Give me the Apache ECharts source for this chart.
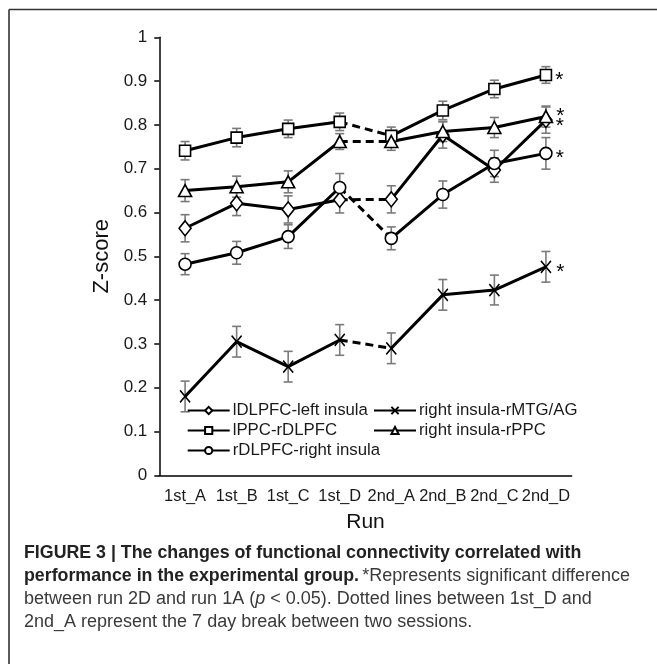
<!DOCTYPE html>
<html>
<head>
<meta charset="utf-8">
<script src="https://cdn.jsdelivr.net/npm/echarts@6/dist/echarts.min.js"></script>
<style>
html,body{margin:0;padding:0;background:#fff;}
#c{width:657px;height:664px;}
</style>
</head>
<body>
<div id="c"></div>
<script>
// ---- data ----
const categories = ['1st_A','1st_B','1st_C','1st_D','2nd_A','2nd_B','2nd_C','2nd_D'];
const yTicks = [0,0.1,0.2,0.3,0.4,0.5,0.6,0.7,0.8,0.9,1];

const names = ['lDLPFC-left insula','lPPC-rDLPFC','rDLPFC-right insula','right insula-rMTG/AG','right insula-rPPC'];

const lDLPFC_leftInsula     = [0.564, 0.621, 0.607, 0.629, 0.630, 0.777, 0.697, 0.811];
const lDLPFC_leftInsula_err = [0.031, 0.028, 0.031, 0.030, 0.031, 0.030, 0.028, 0.030];

const lPPC_rDLPFC     = [0.741, 0.771, 0.791, 0.807, 0.775, 0.833, 0.882, 0.914];
const lPPC_rDLPFC_err = [0.021, 0.021, 0.020, 0.020, 0.020, 0.021, 0.020, 0.019];

const rDLPFC_rightInsula     = [0.482, 0.508, 0.545, 0.657, 0.541, 0.641, 0.712, 0.735];
const rDLPFC_rightInsula_err = [0.024, 0.026, 0.027, 0.032, 0.026, 0.031, 0.030, 0.036];

const rightInsula_rMTG     = [0.180, 0.305, 0.248, 0.309, 0.290, 0.412, 0.423, 0.476];
const rightInsula_rMTG_err = [0.035, 0.035, 0.035, 0.035, 0.035, 0.035, 0.034, 0.035];

const rightInsula_rPPC     = [0.650, 0.659, 0.670, 0.762, 0.762, 0.785, 0.794, 0.819];
const rightInsula_rPPC_err = [0.025, 0.024, 0.025, 0.018, 0.020, 0.023, 0.023, 0.024];

// ---- styles ----
const FONT = 'Liberation Sans';
const CAP = 'Liberation Sans';
const defs = [
  {name:names[0], v:lDLPFC_leftInsula, e:lDLPFC_leftInsula_err, symbol:'diamond', size:[12,15], starOff:[0,6]},
  {name:names[1], v:lPPC_rDLPFC, e:lPPC_rDLPFC_err, symbol:'rect', size:11, starOff:[0,5]},
  {name:names[2], v:rDLPFC_rightInsula, e:rDLPFC_rightInsula_err, symbol:'circle', size:12, starOff:[0,5]},
  {name:names[3], v:rightInsula_rMTG, e:rightInsula_rMTG_err, symbol:'path://M0,0L10,12M10,0L0,12', size:[10,12], cross:true, starOff:[0,5]},
  {name:names[4], v:rightInsula_rPPC, e:rightInsula_rPPC_err, symbol:'triangle', size:[13,12], starOff:[0,0]}
];

const series = [];
// error bars
defs.forEach(d => {
  series.push({
    type:'custom',
    name:d.name+' err',
    z:1,
    silent:true,
    encode:{x:0, y:[1,2]},
    data:d.v.map((v,i)=>[i, v-d.e[i], v+d.e[i]]),
    renderItem:function(params, api){
      const x = api.value(0);
      const lo = api.coord([x, api.value(1)]);
      const hi = api.coord([x, api.value(2)]);
      const w = 4.5;
      const st = {stroke:'#7a7a7a', lineWidth:1.6};
      return {type:'group', children:[
        {type:'line', shape:{x1:lo[0],y1:lo[1],x2:hi[0],y2:hi[1]}, style:st},
        {type:'line', shape:{x1:lo[0]-w,y1:lo[1],x2:lo[0]+w,y2:lo[1]}, style:st},
        {type:'line', shape:{x1:hi[0]-w,y1:hi[1],x2:hi[0]+w,y2:hi[1]}, style:st}
      ]};
    }
  });
});
// dashed break segments
defs.forEach(d => {
  series.push({
    type:'line', name:d.name+' break', z:2, silent:true,
    symbol:'none',
    data:d.v.map((v,i)=> (i===3||i===4) ? v : '-'),
    lineStyle:{color:'#000', width:3, type:[8,5]},
    animation:false
  });
});
// solid segments with markers
defs.forEach(d => {
  const itemStyle = d.cross
    ? {color:'none', borderColor:'#000', borderWidth:1.6}
    : {color:'#fff', borderColor:'#000', borderWidth:1.6};
  const common = {
    type:'line', z:3, symbol:d.symbol, symbolSize:d.size, showAllSymbol:true,
    lineStyle:{color:'#000', width:3}, itemStyle:itemStyle, animation:false,
    emphasis:{disabled:true}
  };
  series.push(Object.assign({}, common, {
    name:d.name,
    data:d.v.map((v,i)=> i<4 ? v : '-')
  }));
  series.push(Object.assign({}, common, {
    name:d.name+' s2',
    data:d.v.map((v,i)=> {
      if (i<4) return '-';
      if (i===7) return {value:v, label:{show:true, position:'right', distance:3, formatter:'*', offset:d.starOff,
        color:'#000', fontSize:21, fontFamily:FONT}};
      return v;
    })
  }));
});

const legendCommon = {
  orient:'vertical', padding:0, itemGap:3, itemWidth:42, itemHeight:9,
  textStyle:{fontFamily:FONT, fontSize:16.8, color:'#1a1a1a', padding:[0,0,0,-2]},
  selectedMode:false
};

const option = {
  backgroundColor:'#fff',
  animation:false,
  grid:{left:159.3, right:85.3, top:37.3, bottom:188.7, containLabel:false},
  xAxis:{
    type:'category', data:categories, boundaryGap:true,
    name:'Run', nameLocation:'middle', nameGap:36,
    nameTextStyle:{fontFamily:FONT, fontSize:21, color:'#111'},
    axisLine:{lineStyle:{color:'#000', width:1.5}},
    axisTick:{alignWithLabel:true, length:5, lineStyle:{color:'#000', width:1.5}},
    axisLabel:{fontFamily:FONT, fontSize:16.4, color:'#1a1a1a', margin:13, interval:0}
  },
  yAxis:{
    type:'value', min:yTicks[0], max:yTicks[yTicks.length-1], interval:0.1,
    name:'Z-score', nameLocation:'middle', nameGap:41,
    nameTextStyle:{fontFamily:FONT, fontSize:22, color:'#111'},
    axisLine:{show:true, lineStyle:{color:'#000', width:1.5}},
    axisTick:{show:true, length:5, lineStyle:{color:'#000', width:1.5}},
    splitLine:{show:false},
    axisLabel:{fontFamily:FONT, fontSize:17, color:'#1a1a1a', margin:12,
      formatter:function(v){ return String(Math.round(v*10)/10); }}
  },
  legend:[
    Object.assign({}, legendCommon, {left:186.7, top:402, data:[names[0], names[1], names[2]]}),
    Object.assign({}, legendCommon, {left:373, top:402, data:[names[3], names[4]]})
  ],
  graphic:[
    {type:'line', shape:{x1:9, y1:9.5, x2:657, y2:9.5}, style:{stroke:'#333', lineWidth:1.6}},
    {type:'line', shape:{x1:9, y1:9.5, x2:9, y2:664}, style:{stroke:'#333', lineWidth:1.6}},
    {type:'text', left:24, top:544,
      style:{
        text:'{b|FIGURE 3 | The changes of functional connectivity correlated with}\n' +
             '{b|performance in the experimental group.} {r|*Represents significant difference}\n' +
             '{r|between run 2D and run 1A (}{i|p}{r| < 0.05). Dotted lines between 1st_D and}\n' +
             '{r|2nd_A represent the 7 day break between two sessions.}',
        rich:{
          b:{fontFamily:CAP, fontWeight:'bold', fontSize:17.8, lineHeight:23, fill:'#222'},
          r:{fontFamily:CAP, fontSize:18, lineHeight:23, fill:'#3a3a3a'},
          i:{fontFamily:CAP, fontStyle:'italic', fontSize:18, lineHeight:23, fill:'#3a3a3a'}
        }
      }}
  ],
  series:series
};

const chart = echarts.init(document.getElementById('c'), null, {renderer:'canvas'});
chart.setOption(option);
</script>
</body>
</html>
